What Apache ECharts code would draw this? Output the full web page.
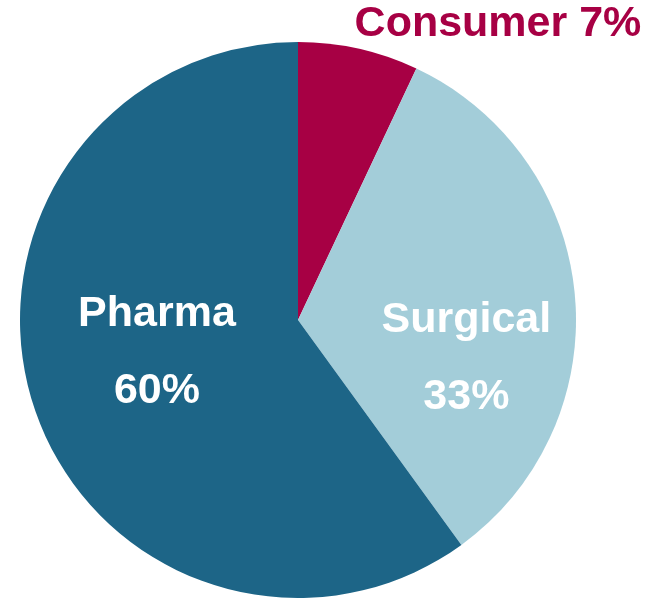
<!DOCTYPE html>
<html>
<head>
<meta charset="utf-8">
<script src="https://cdn.jsdelivr.net/npm/echarts@6/dist/echarts.min.js"></script>
<style>
  html, body { margin: 0; padding: 0; background: #fff; }
  #main { width: 652px; height: 598px; }
</style>
</head>
<body>
<div id="main"></div>
<script>
var segments = ["Consumer", "Surgical", "Pharma"];
var shares = [7, 33, 60];
var colors = ["#A70044", "#A3CDD9", "#1D6587"];

var chartDom = document.getElementById("main");
var myChart = echarts.init(chartDom);

// label placement per slice (offset from the inside position)
var labelSetup = {
  Consumer: { formatter: "{b} {d}%", color: "#A70044", offset: [169, -157] },
  Surgical: { formatter: "{b}\n{d}%", color: "#ffffff", offset: [27, 52] },
  Pharma: { formatter: "{b}\n{d}%", color: "#ffffff", offset: [-6, -11] },
};

var data = segments.map(function (name, i) {
  var l = labelSetup[name];
  return {
    name: name,
    value: shares[i],
    itemStyle: { color: colors[i] },
    label: {
      formatter: l.formatter,
      color: l.color,
      offset: l.offset,
    },
  };
});

var option = {
  animation: false,
  series: [
    {
      type: "pie",
      center: [298, 320],
      radius: [0, 278],
      startAngle: 90,
      clockwise: true,
      avoidLabelOverlap: false,
      itemStyle: { borderWidth: 0 },
      label: {
        show: true,
        position: "inside",
        fontFamily: "Liberation Sans, Arial",
        fontWeight: "bold",
        fontSize: 43,
        lineHeight: 77,
      },
      labelLine: { show: false },
      emphasis: { disabled: true },
      data: data,
    },
  ],
};
myChart.setOption(option);
</script>
</body>
</html>
